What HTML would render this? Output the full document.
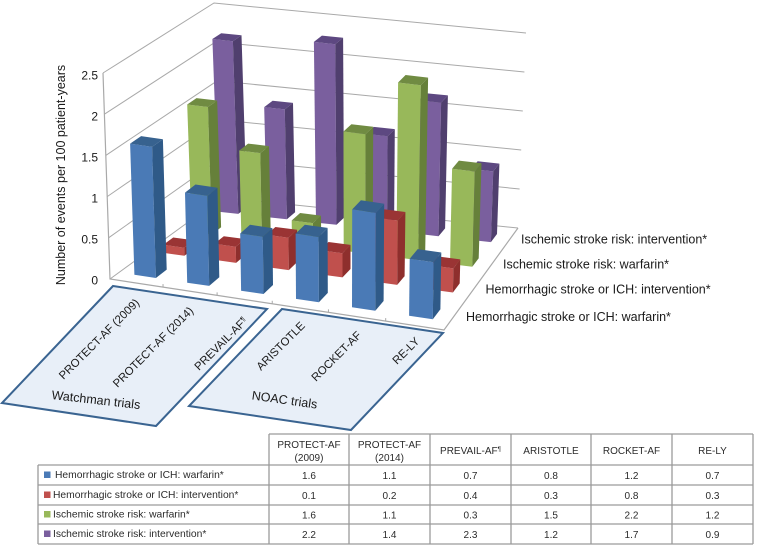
<!DOCTYPE html>
<html lang="en">
<head>
<meta charset="utf-8">
<title>Stroke risk in Watchman and NOAC trials</title>
<style>
html,body{margin:0;padding:0;background:#fff;}
svg{display:block;font-family:"Liberation Sans",Arial,sans-serif;}
</style>
</head>
<body>
<svg id="chart" xmlns="http://www.w3.org/2000/svg" width="758" height="549" viewBox="0 0 758 549">
  <rect x="0" y="0" width="758" height="549" fill="#ffffff"/>
  <g id="walls"></g>
  <g id="bars"></g>
  <g id="yticks"></g>
  <text transform="translate(65,175) rotate(-90)" text-anchor="middle" font-size="12.5" fill="#1a1a1a">Number of events per 100 patient-years</text>
  <g id="serieslabels"></g>

  <polygon points="113,286 267,309 156,426 2,403" fill="#e8eff8" stroke="#3a6491" stroke-width="2"/>
  <polygon points="282,309 443,333 351,430 189,406" fill="#e8eff8" stroke="#3a6491" stroke-width="2"/>
  <g id="catlabels"></g>
  <text transform="translate(95.500,404) rotate(6.500)" text-anchor="middle" font-size="12.5" fill="#1a1a1a">Watchman trials</text>
  <text transform="translate(284,404) rotate(8)" text-anchor="middle" font-size="12.5" fill="#1a1a1a">NOAC trials</text>
  <g id="table"></g>
</svg>
<script>
const categories = ["PROTECT-AF (2009)", "PROTECT-AF (2014)", "PREVAIL-AF¶", "ARISTOTLE", "ROCKET-AF", "RE-LY"];
const seriesNames = ["Hemorrhagic stroke or ICH: warfarin*", "Hemorrhagic stroke or ICH: intervention*", "Ischemic stroke risk: warfarin*", "Ischemic stroke risk: intervention*"];
const hemorrhagicWarfarin = [1.6, 1.1, 0.7, 0.8, 1.2, 0.7];
const hemorrhagicIntervention = [0.1, 0.2, 0.4, 0.3, 0.8, 0.3];
const ischemicWarfarin = [1.6, 1.1, 0.3, 1.5, 2.2, 1.2];
const ischemicIntervention = [2.2, 1.4, 2.3, 1.2, 1.7, 0.9];
const yTickLabels = ["0", "0.5", "1", "1.5", "2", "2.5"];

const seriesValues = [hemorrhagicWarfarin, hemorrhagicIntervention, ischemicWarfarin, ischemicIntervention];
const seriesKeys = ["hem-warfarin", "hem-intervention", "isch-warfarin", "isch-intervention"];
const palette = [
  {front: "#4a7ab6", side: "#2f5a88", top: "#37628f"},
  {front: "#c0504d", side: "#8e2f2d", top: "#9a3434"},
  {front: "#98b85a", side: "#66803a", top: "#708b42"},
  {front: "#7a5f9e", side: "#503f6e", top: "#5d4881"}
];
const NS = "http://www.w3.org/2000/svg";
const yMax = 2.5;

/* plot box corners on screen: front-left, front-right, back-right, back-left */
const floorCorners = [[110, 279], [444, 330], [518, 228], [222, 197.5]];
const ceilCorners = [[103, 73], [447, 126], [526, 33], [214, 3]];
function bilinear(q, u, v) {
  const fx = q[0][0] + (q[1][0] - q[0][0]) * u, fy = q[0][1] + (q[1][1] - q[0][1]) * u;
  const bx = q[3][0] + (q[2][0] - q[3][0]) * u, by = q[3][1] + (q[2][1] - q[3][1]) * u;
  return [fx + (bx - fx) * v, fy + (by - fy) * v];
}
function project(cat, depth, value) {
  const t = cat / categories.length;
  const u = t + 0.057 * t * (t - 1);
  const f = bilinear(floorCorners, u, depth), c = bilinear(ceilCorners, u, depth), k = value / yMax;
  return [f[0] + (c[0] - f[0]) * k, f[1] + (c[1] - f[1]) * k];
}
function pts(list) {
  return list.map(function (p) { return p[0].toFixed(1) + "," + p[1].toFixed(1); }).join(" ");
}
function shape(tag, parent) {
  const el = document.createElementNS(NS, tag);
  parent.appendChild(el);
  return el;
}
function setLabel(t, str, size) {
  const m = str.match(/^(.*)¶$/);
  if (m) {
    t.appendChild(document.createTextNode(m[1]));
    const sup = shape("tspan", t);
    sup.setAttribute("font-size", size * 0.62);
    sup.setAttribute("dy", -size * 0.32);
    sup.textContent = "¶";
  } else {
    t.textContent = str;
  }
}

/* walls and gridlines */
const walls = document.getElementById("walls");
const wallColor = "#a9a9a9";
yTickLabels.forEach(function (lab) {
  const v = parseFloat(lab);
  const line = shape("polyline", walls);
  
  
  line.setAttribute("points", pts([project(0, 0, v), project(0, 1, v), project(categories.length, 1, v)]));
  line.setAttribute("fill", "none");
  line.setAttribute("stroke", wallColor);
  line.setAttribute("stroke-width", "1");
});
const edge = shape("polyline", walls);


edge.setAttribute("points", pts([project(0, 0, yMax), project(0, 0, 0), project(categories.length, 0, 0), project(categories.length, 1, 0)]));
edge.setAttribute("fill", "none");
edge.setAttribute("stroke", wallColor);
edge.setAttribute("stroke-width", "1.2");
for (let k = 1; k < categories.length; k++) {
  const p = project(k, 0, 0);
  const tick = shape("line", walls);
  
  
  tick.setAttribute("x1", p[0]); tick.setAttribute("y1", p[1] - 3);
  tick.setAttribute("x2", p[0]); tick.setAttribute("y2", p[1]);
  tick.setAttribute("stroke", wallColor);
}

/* bars: back row to front row, left to right */
const barsG = document.getElementById("bars");
const barW = 0.41;
const rowNearEdge = [0.08, 0.345, 0.6, 0.845];
const rowThickness = [0.1, 0.09, 0.085, 0.08];
for (let s = 3; s >= 0; s--) {
  for (let c = 0; c < categories.length; c++) {
    const val = seriesValues[s][c];
    const l = c + 0.5 - barW / 2, r = c + 0.5 + barW / 2;
    const nr = rowNearEdge[s], fr = rowNearEdge[s] + rowThickness[s];
    const g = shape("g", barsG);
    
    
    const front = shape("polygon", g);
    front.setAttribute("points", pts([project(l, nr, 0), project(r, nr, 0), project(r, nr, val), project(l, nr, val)]));
    front.setAttribute("fill", palette[s].front);
    const side = shape("polygon", g);
    side.setAttribute("points", pts([project(r, nr, 0), project(r, fr, 0), project(r, fr, val), project(r, nr, val)]));
    side.setAttribute("fill", palette[s].side);
    const top = shape("polygon", g);
    top.setAttribute("points", pts([project(l, nr, val), project(r, nr, val), project(r, fr, val), project(l, fr, val)]));
    top.setAttribute("fill", palette[s].top);
  }
}

/* y tick labels */
const yG = document.getElementById("yticks");
yTickLabels.forEach(function (lab) {
  const t = shape("text", yG);
  
  
  t.setAttribute("x", 98);
  t.setAttribute("y", 284.3 - parseFloat(lab) * 82);
  t.setAttribute("text-anchor", "end");
  t.setAttribute("font-size", "12");
  t.setAttribute("fill", "#1a1a1a");
  t.textContent = lab;
});

/* series labels along the depth axis, from the front row to the back */
const slG = document.getElementById("serieslabels");
const seriesLabelX = [466, 485.5, 503, 521];
const seriesLabelY = [321, 293.3, 268.3, 243.3];
seriesNames.forEach(function (name, i) {
  const t = shape("text", slG);
  
  
  t.setAttribute("x", seriesLabelX[i]);
  t.setAttribute("y", seriesLabelY[i]);
  t.setAttribute("font-size", "12.5");
  t.setAttribute("fill", "#1a1a1a");
  t.textContent = name;
});

/* tilted category labels */
const clG = document.getElementById("catlabels");
const catAnchorX = [63.5, 117.5, 199, 261, 316, 397];
const catAnchorY = [380, 388, 371, 371, 382, 365];
categories.forEach(function (name, i) {
  const t = shape("text", clG);
  
  
  t.setAttribute("transform", "translate(" + catAnchorX[i] + "," + catAnchorY[i] + ") rotate(-45)");
  t.setAttribute("font-size", "11.4");
  t.setAttribute("fill", "#1a1a1a");
  setLabel(t, name, 11.4);
});

/* data table */
const tb = document.getElementById("table");
const colX = [38, 269, 349, 430, 511, 591, 672, 753];
const rowY = [434, 465, 485, 505, 524, 544];
const tableLine = "#9a9a9a";
function tableText(x, y, str, anchor, name, size) {
  const t = shape("text", tb);
  
  
  t.setAttribute("x", x);
  t.setAttribute("y", y);
  t.setAttribute("text-anchor", anchor);
  t.setAttribute("font-size", size);
  t.setAttribute("fill", "#2b2b2b");
  setLabel(t, str, size);
}
function tableLineSeg(x1, y1, x2, y2) {
  const l = shape("line", tb);
  
  
  l.setAttribute("x1", x1); l.setAttribute("y1", y1);
  l.setAttribute("x2", x2); l.setAttribute("y2", y2);
  l.setAttribute("stroke", tableLine);
  l.setAttribute("stroke-width", "1.3");
}
rowY.forEach(function (y, i) { tableLineSeg(i === 0 ? colX[1] : colX[0], y, colX[7], y); });
colX.forEach(function (x, i) { tableLineSeg(x, i === 0 ? rowY[1] : rowY[0], x, rowY[5]); });
categories.forEach(function (name, i) {
  const cx = (colX[i + 1] + colX[i + 2]) / 2;
  const m = name.match(/^(.*) (\(.*\))$/);
  if (m) {
    tableText(cx, 448, m[1], "middle", "table-header", 10);
    tableText(cx, 461, m[2], "middle", "table-header", 10);
  } else {
    tableText(cx, 454, name, "middle", "table-header", 10);
  }
});
const legendTextX = [55, 53, 53, 53];
seriesNames.forEach(function (name, s) {
  const y = rowY[s + 1], mid = (y + rowY[s + 2]) / 2;
  const sw = shape("rect", tb);
  
  
  sw.setAttribute("x", 44); sw.setAttribute("y", mid - 3.5);
  sw.setAttribute("width", 6.5); sw.setAttribute("height", 6.5);
  sw.setAttribute("fill", palette[s].front);
  tableText(legendTextX[s], mid + 3, name, "start", "legend-entry", 10.3);
  seriesValues[s].forEach(function (v, c) {
    tableText((colX[c + 1] + colX[c + 2]) / 2, mid + 4, v.toFixed(1), "middle", "table-value", 10);
  });
});
</script>
</body>
</html>
